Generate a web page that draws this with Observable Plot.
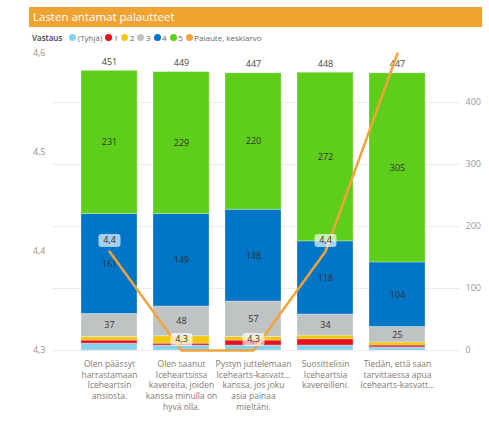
<!DOCTYPE html>
<html><head><meta charset="utf-8">
<script src="https://cdn.jsdelivr.net/npm/d3@7"></script>
<script src="https://cdn.jsdelivr.net/npm/@observablehq/plot@0.6"></script>
<style>
body{margin:0;background:#fff;font-family:"Open Sans",sans-serif;width:489px;height:435px;overflow:hidden;position:relative}
#title{position:absolute;left:29px;top:7px;width:453px;height:20px;background:#F0A330;color:#fff;font-size:11.5px;line-height:20px;padding-left:4px;box-sizing:border-box}
#legend{position:absolute;left:32px;top:31px;font-size:8px;color:#666;display:flex;align-items:center;white-space:nowrap;height:12px}
#legend b{color:#444;font-weight:600;margin-right:7px}
#legend .it{display:flex;align-items:center;margin-right:3px}
#legend .sw{width:7px;height:7px;border-radius:50%;margin-right:1.5px;display:inline-block}
#chart{position:absolute;left:0;top:45px;width:489px;height:390px}
#chart svg{position:absolute;left:0;top:0}
</style>
</head><body>
<div id="title">Lasten antamat palautteet</div>
<div id="legend"></div>
<div id="chart"></div>
<script>
const categories = [
  "Olen päässyt\nharrastamaan\nIceheartsin\nansiosta.",
  "Olen saanut\nIceheartsissa\nkavereita, joiden\nkanssa minulla on\nhyvä olla.",
  "Pystyn juttelemaan\nIcehearts-kasvatt…\nkanssa, jos joku\nasia painaa\nmieltäni.",
  "Suosittelisin\nIceheartsia\nkavereilleni.",
  "Tiedän, että saan\ntarvittaessa apua\nIcehearts-kasvatt…"
];
const seriesNames = ["(Tyhjä)", "1", "2", "3", "4", "5"];
const seriesColors = ["#86D1EB", "#E8111B", "#F2C811", "#BFC3C4", "#0175C7", "#5DCE1A"];
const valuesTyhja = [11, 8, 8, 8, 5];
const values1 = [5, 3, 8, 10, 3];
const values2 = [6, 12, 6, 6, 5];
const values3 = [37, 48, 57, 34, 25];
const values4 = [161, 149, 148, 118, 104];
const values5 = [231, 229, 220, 272, 305];
const totals = [451, 449, 447, 448, 447];
const labeledSeries = ["3", "4", "5"];
const averages = [4.4, 4.3, 4.3, 4.4, 4.6];
const averageLabelShown = [true, true, true, true, false];
const averageName = "Palaute, keskiarvo";
const averageColor = "#F2A33A";
const leftTicks = [4.3, 4.4, 4.5, 4.6];
const rightTicks = [0, 100, 200, 300, 400];

// legend
const lg = document.getElementById("legend");
lg.innerHTML = "<b>Vastaus</b>" +
  seriesNames.map((s, i) => `<span class="it"><span class="sw" style="background:${seriesColors[i]}"></span>${s}</span>`).join("") +
  `<span class="it"><span class="sw" style="background:${averageColor}"></span>${averageName}</span>`;

const seriesValues = [valuesTyhja, values1, values2, values3, values4, values5];
const rows = [];
categories.forEach((c, i) => seriesNames.forEach((s, j) => rows.push({category: c, series: s, value: seriesValues[j][i]})));
const totalRows = categories.map((c, i) => ({category: c, total: totals[i]}));
const avgRows = categories.map((c, i) => ({category: c, avg: averages[i], show: averageLabelShown[i]}));

const W = 489, H = 390;
const common = {width: W, height: H, marginTop: 8, marginBottom: 85, marginLeft: 52, marginRight: 29};
const xOpts = {type: "band", domain: categories, paddingInner: 0.228, paddingOuter: 0.428, align: 0.45, label: null};
const font = "'Open Sans', sans-serif";

const plotA = Plot.plot({
  ...common,
  style: {fontFamily: font, background: "transparent"},
  x: xOpts,
  y: {domain: [0, 479], label: null},
  color: {domain: seriesNames, range: seriesColors},
  marks: [
    Plot.ruleY(rightTicks, {stroke: "#ebebeb", strokeWidth: 1}),
    Plot.barY(rows, {x: "category", y: "value", fill: "series", order: seriesNames, stroke: "#fff", strokeOpacity: 0.35, strokeWidth: 0.8}),
    Plot.text(rows, Plot.stackY({x: "category", y: "value", z: "series", order: seriesNames,
      text: d => labeledSeries.includes(d.series) ? String(d.value) : null, fill: "#333", fontSize: 9})),
    Plot.text(totalRows, {x: "category", y: "total", text: d => String(d.total), dy: -9, fill: "#444", fontSize: 9}),
    Plot.axisY(rightTicks, {anchor: "right", tickSize: 0, tickPadding: 5, fill: "#999", fontSize: 9, label: null}),
    Plot.axisX({tickSize: 0, tickPadding: 9, fill: "#857a72", fontSize: 8.5, lineHeight: 1.25, label: null})
  ]
});

const roundRect = {
  draw(ctx) {
    const w = 11, h = 6.5, r = 3;
    ctx.moveTo(-w + r, -h);
    ctx.lineTo(w - r, -h);
    ctx.arcTo(w, -h, w, -h + r, r);
    ctx.lineTo(w, h - r);
    ctx.arcTo(w, h, w - r, h, r);
    ctx.lineTo(-w + r, h);
    ctx.arcTo(-w, h, -w, h - r, r);
    ctx.lineTo(-w, -h + r);
    ctx.arcTo(-w, -h, -w + r, -h, r);
    ctx.closePath();
  }
};

const shownAvg = avgRows.filter(d => d.show);
const plotB = Plot.plot({
  ...common,
  style: {fontFamily: font, background: "transparent"},
  x: {...xOpts, axis: null},
  y: {domain: [4.3, 4.6], label: null},
  marks: [
    Plot.axisY(leftTicks, {anchor: "left", tickSize: 0, tickPadding: 7, fill: "#a08f84", fontSize: 9, label: null,
      tickFormat: d => d.toFixed(1).replace(".", ",")}),
    Plot.lineY(avgRows, {x: "category", y: "avg", stroke: averageColor, strokeWidth: 2.5, strokeLinejoin: "round"}),
    Plot.dot(shownAvg, {x: "category", y: "avg", symbol: roundRect, r: 5, fill: "white", fillOpacity: 0.65, stroke: "none", dy: -11}),
    Plot.text(shownAvg, {x: "category", y: "avg", text: d => d.avg.toFixed(1).replace(".", ","), dy: -11, fill: "#333", fontSize: 9})
  ]
});

const chart = document.getElementById("chart");
chart.appendChild(plotA);
chart.appendChild(plotB);
</script>
</body></html>
